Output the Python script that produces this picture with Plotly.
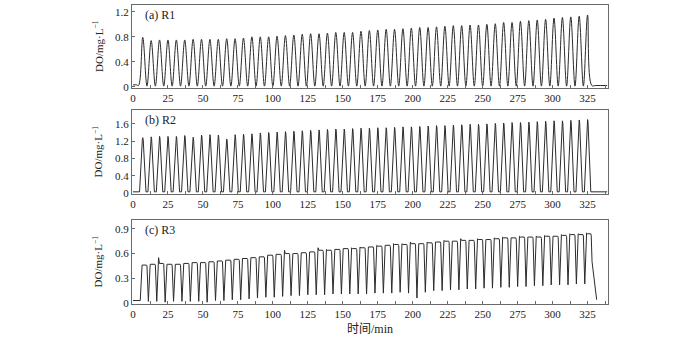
import plotly.graph_objects as go

# ---------------- data ----------------
# cycle peak times (min), shared by R1 and R2
peak_min = [7, 13, 19, 25, 31, 37, 43, 49, 55, 61, 67, 73, 79, 85, 91, 97, 103, 109,
            115, 121, 127, 133, 139, 145, 151, 157, 163, 169, 175, 181, 187, 193, 199,
            205, 211, 217, 223, 229, 235, 241, 247, 253, 259, 265, 271, 277, 283, 289,
            295, 301, 307, 313, 319, 325]

# R1
r1_peak_do = [0.79, 0.74, 0.75, 0.75, 0.75, 0.75, 0.76, 0.76, 0.76, 0.76, 0.77, 0.77,
              0.78, 0.80, 0.80, 0.80, 0.81, 0.82, 0.83, 0.84, 0.85, 0.85, 0.86, 0.87,
              0.87, 0.87, 0.89, 0.90, 0.91, 0.92, 0.92, 0.93, 0.94, 0.95, 0.95, 0.96,
              0.97, 0.98, 0.98, 0.99, 0.99, 1.00, 1.01, 1.03, 1.03, 1.05, 1.06, 1.07,
              1.08, 1.10, 1.11, 1.12, 1.13, 1.15]
r1_trough_min = [4, 10, 16, 22, 28, 34, 40, 46, 52, 58, 64, 70, 76, 82, 88, 94, 100, 106,
                 112, 118, 124, 130, 136, 142, 148, 154, 160, 166, 172, 178, 184, 190,
                 196, 202, 208, 214, 220, 226, 232, 238, 244, 250, 256, 262, 268, 274,
                 280, 286, 292, 298, 304, 310, 316, 322, 328]
r1_trough_do = [0.02] + [0.01] * 53 + [0.02]
r1_head = [(0, 0.03), (2.5, 0.03)]
r1_tail = [(331, 0.02), (339, 0.02)]

# R2
r2_peak_do = [1.28, 1.30, 1.31, 1.31, 1.31, 1.33, 1.29, 1.34, 1.35, 1.34, 1.25, 1.35,
              1.36, 1.37, 1.39, 1.40, 1.41, 1.42, 1.43, 1.44, 1.45, 1.46, 1.47, 1.48,
              1.48, 1.49, 1.50, 1.50, 1.51, 1.51, 1.52, 1.53, 1.53, 1.54, 1.55, 1.56,
              1.56, 1.57, 1.58, 1.59, 1.59, 1.60, 1.61, 1.62, 1.63, 1.63, 1.64, 1.65,
              1.66, 1.67, 1.67, 1.68, 1.69, 1.70]
r2_base_do = 0.03
r2_head = [(0, 0.03)]
r2_tail = [(339, 0.03)]

# R3
r3_high_do = [0.46, 0.47, 0.48, 0.47, 0.47, 0.48, 0.49, 0.49, 0.50, 0.51, 0.52, 0.53,
              0.54, 0.55, 0.56, 0.58, 0.59, 0.60, 0.60, 0.61, 0.62, 0.64, 0.64, 0.65,
              0.66, 0.66, 0.67, 0.68, 0.69, 0.70, 0.71, 0.71, 0.72, 0.72, 0.73, 0.74,
              0.75, 0.75, 0.76, 0.76, 0.77, 0.77, 0.78, 0.79, 0.79, 0.80, 0.80, 0.80,
              0.81, 0.81, 0.82, 0.83, 0.83, 0.84]
r3_start_do = [0.46, 0.47, 0.55, 0.47, 0.47, 0.48, 0.49, 0.49, 0.50, 0.51, 0.52, 0.53,
               0.54, 0.55, 0.56, 0.58, 0.59, 0.64, 0.60, 0.61, 0.62, 0.67, 0.65, 0.65,
               0.66, 0.67, 0.68, 0.68, 0.70, 0.70, 0.72, 0.72, 0.74, 0.72, 0.74, 0.74,
               0.76, 0.75, 0.78, 0.76, 0.78, 0.77, 0.79, 0.80, 0.79, 0.81, 0.80, 0.81,
               0.82, 0.81, 0.83, 0.84, 0.84, 0.85]
r3_trough_min = [11, 17, 23, 29, 35, 41, 47, 53, 59, 65, 71, 77, 83, 89, 95, 101, 107,
                 113, 119, 125, 131, 137, 143, 149, 155, 161, 167, 173, 179, 185, 191,
                 197, 203, 209, 215, 221, 227, 233, 239, 245, 251, 257, 263, 269, 275,
                 281, 287, 293, 299, 305, 311, 317, 323]
r3_trough_do = [0.02, 0.02, 0.01, 0.02, 0.02, 0.02, 0.02, 0.01, 0.03, 0.03, 0.04, 0.04,
                0.05, 0.06, 0.07, 0.07, 0.08, 0.09, 0.09, 0.10, 0.10, 0.10, 0.11, 0.11,
                0.11, 0.11, 0.11, 0.12, 0.12, 0.12, 0.13, 0.12, 0.06, 0.13, 0.15, 0.15,
                0.16, 0.16, 0.17, 0.17, 0.18, 0.18, 0.19, 0.19, 0.20, 0.20, 0.21, 0.21,
                0.22, 0.22, 0.22, 0.23, 0.23]
r3_head = [(0, 0.03), (4.8, 0.03)]
r3_tail = [(328.2, 0.50), (331.5, 0.04)]

panel_labels = ["(a) R1", "(b) R2", "(c) R3"]
y_ranges = [[-0.02, 1.31], [-0.02, 1.92], [-0.012, 1.007]]
y_ticks = [[0, 0.4, 0.8, 1.2], [0, 0.4, 0.8, 1.2, 1.6], [0, 0.3, 0.6, 0.9]]
y_ticktext = [["0", "0.4", "0.8", "1.2"], ["0", "0.4", "0.8", "1.2", "1.6"],
              ["0", "0.3", "0.6", "0.9"]]
x_ticks = list(range(0, 326, 25))
y_title = "DO/mg·L<sup>−1</sup>"
x_title = "时间/min"

# ---------------- build the series ----------------
# R1: alternate troughs and peaks
r1_x, r1_y = [p[0] for p in r1_head], [p[1] for p in r1_head]
for i, t in enumerate(peak_min):
    r1_x += [r1_trough_min[i], t]
    r1_y += [r1_trough_do[i], r1_peak_do[i]]
r1_x.append(r1_trough_min[-1]); r1_y.append(r1_trough_do[-1])
r1_x += [p[0] for p in r1_tail]; r1_y += [p[1] for p in r1_tail]

# R2: narrow spikes on a flat base
r2_x, r2_y = [p[0] for p in r2_head], [p[1] for p in r2_head]
for t, v in zip(peak_min, r2_peak_do):
    r2_x += [t - 2.3, t - 0.3, t, t + 0.3, t + 2.3]
    r2_y += [r2_base_do, v * 0.97, v, v * 0.97, r2_base_do]
r2_x += [p[0] for p in r2_tail]; r2_y += [p[1] for p in r2_tail]

# R3: plateaus with sharp dips
r3_x, r3_y = [p[0] for p in r3_head], [p[1] for p in r3_head]
prev_t = 5.2
prev_v = 0.03
r3_x.append(prev_t); r3_y.append(prev_v)
for k in range(len(r3_high_do)):
    end_t = r3_trough_min[k] - 1.0 if k < len(r3_trough_min) else 327.6
    r3_x += [prev_t + 1.3, prev_t + 1.9, end_t - 0.3, end_t]
    r3_y += [r3_start_do[k], r3_high_do[k], r3_high_do[k], r3_high_do[k] * 0.98]
    if k < len(r3_trough_min):
        prev_t = r3_trough_min[k]
        r3_x.append(prev_t); r3_y.append(r3_trough_do[k])
r3_x += [p[0] for p in r3_tail]; r3_y += [p[1] for p in r3_tail]

series = [(r1_x, r1_y, "spline"), (r2_x, r2_y, "linear"), (r3_x, r3_y, "linear")]

# ---------------- figure ----------------
W, H = 700, 337
ML, MR, MT, MB = 132, 92, 5, 33
plot_h = H - MT - MB
panels_px = [(5, 88), (110, 194), (220, 304)]  # top, bottom (pixel rows)


def frac(py):
    return (H - MB - py) / plot_h


fig = go.Figure()
font_fam = "Liberation Serif, Times New Roman, Noto Sans CJK SC, serif"
axis_style = dict(showline=True, mirror=True, linecolor="#6a6a6a", linewidth=1,
                  ticks="inside", ticklen=3, tickcolor="#6a6a6a", showgrid=False,
                  zeroline=False, tickfont=dict(family=font_fam, size=11, color="#222"))

for i, (xs, ys, shape) in enumerate(series):
    n = "" if i == 0 else str(i + 1)
    fig.add_trace(go.Scatter(x=xs, y=ys, mode="lines",
                             line=dict(color="#2b2b2b", width=1, shape=shape,
                                       smoothing=1.0 if shape == "spline" else None),
                             xaxis="x" + n, yaxis="y" + n, showlegend=False,
                             hoverinfo="skip"))
    top, bot = panels_px[i]
    fig.layout["xaxis" + n] = dict(domain=[0, 1], anchor="y" + n, range=[-0.7, 339.6],
                                   tickvals=x_ticks,
                                   minor=dict(dtick=12.5, tick0=0, ticks="inside",
                                              ticklen=3, tickcolor="#6a6a6a"),
                                   **axis_style)
    fig.layout["yaxis" + n] = dict(domain=[frac(bot), frac(top)], anchor="x" + n,
                                   range=y_ranges[i], tickvals=y_ticks[i],
                                   ticktext=y_ticktext[i], **axis_style)
    # panel label
    fig.add_annotation(text=panel_labels[i], xref="paper", yref="paper",
                       x=11 / (W - ML - MR), y=frac(top + 10),
                       xanchor="left", yanchor="middle", showarrow=False,
                       font=dict(family=font_fam, size=12, color="#222"))
    # y title
    fig.add_annotation(text=y_title, xref="paper", yref="paper",
                       x=(97.5 - ML) / (W - ML - MR), y=frac((top + bot) / 2),
                       textangle=-90, xanchor="center", yanchor="middle",
                       showarrow=False, font=dict(family=font_fam, size=11, color="#222"))

fig.add_annotation(text=x_title, xref="paper", yref="paper", x=0.5, y=frac(329),
                   xanchor="center", yanchor="middle", showarrow=False,
                   font=dict(family=font_fam, size=12, color="#222"))

fig.update_layout(width=W, height=H, margin=dict(l=ML, r=MR, t=MT, b=MB),
                  paper_bgcolor="white", plot_bgcolor="white")
fig.write_html("out.html")
